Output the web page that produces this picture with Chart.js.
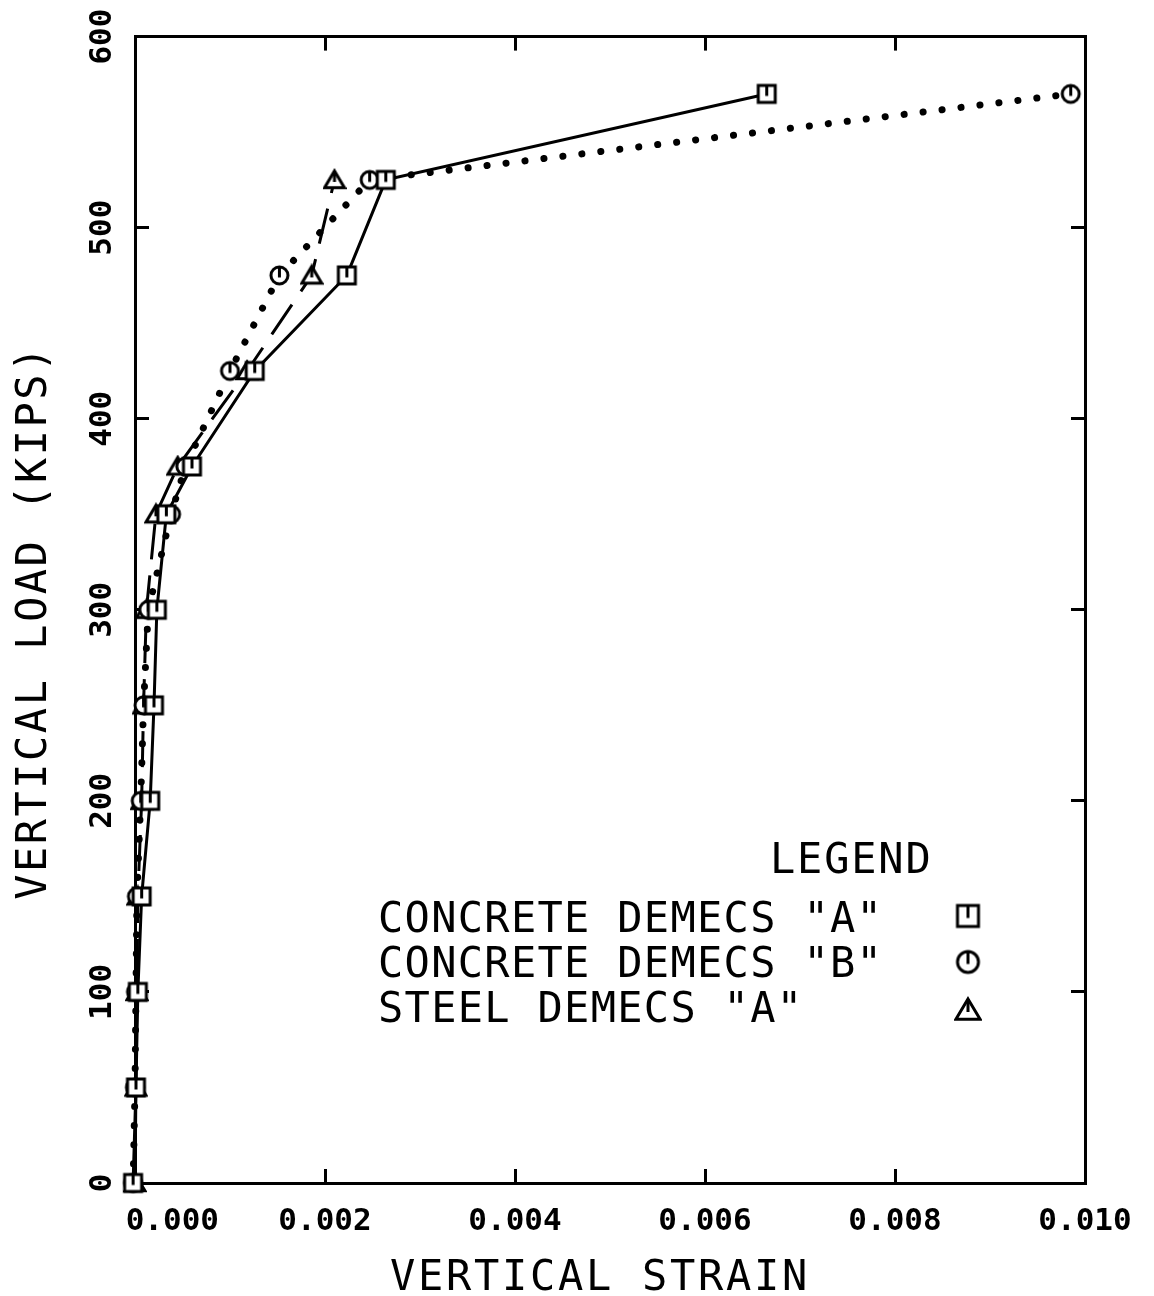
<!DOCTYPE html>
<html>
<head>
<meta charset="utf-8">
<script src="https://cdn.jsdelivr.net/npm/chart.js@4.4.0/dist/chart.umd.min.js"></script>
<style>
  html, body { margin: 0; padding: 0; background: #fff; }
  #wrap { width: 1154px; height: 1296px; }
</style>
</head>
<body>
<div id="wrap"><canvas id="strainChart"></canvas></div>
<script>
// load steps (kips)
const loads = [0, 50, 100, 150, 200, 250, 300, 350, 375, 425, 475, 525, 570];
const loadsSteel = [0, 50, 100, 150, 200, 250, 300, 350, 375, 425, 475, 525];

// vertical strain readings
const strainConcreteA = [-0.00002, 0.00001, 0.00003, 0.00007, 0.00016, 0.00020, 0.00023, 0.00033, 0.00060, 0.00126, 0.00223, 0.00264, 0.00665];
const strainConcreteB = [-0.00002, 0.00000, 0.00001, 0.00002, 0.00006, 0.00009, 0.00014, 0.00038, 0.00053, 0.00100, 0.00152, 0.00247, 0.00985];
const strainSteelA = [0.00000, 0.00001, 0.00002, 0.00003, 0.00007, 0.00009, 0.00012, 0.00022, 0.00045, 0.00118, 0.00186, 0.00210];

const xTickValues = [0, 0.002, 0.004, 0.006, 0.008, 0.010];
const yTickValues = [0, 100, 200, 300, 400, 500, 600];

const seriesNames = ['CONCRETE DEMECS "A"', 'CONCRETE DEMECS "B"', 'STEEL DEMECS "A"'];

const FONT = '"DejaVu Sans Mono", "Liberation Mono", monospace';
Chart.defaults.font.family = FONT;
Chart.defaults.color = '#000';

// plotter style markers with the little centre stroke
function makeIcon(kind, size) {
    const c = document.createElement('canvas');
    c.width = size + 6;
    c.height = size + 6;
    const g = c.getContext('2d');
    const m = c.width / 2;
    const h = size / 2;
    g.lineWidth = 3;
    g.strokeStyle = '#000';
    g.fillStyle = '#fff';
    g.beginPath();
    if (kind === 'square') {
        g.rect(m - h, m - h, size, size);
    } else if (kind === 'circle') {
        g.arc(m, m, h, 0, Math.PI * 2);
    } else {
        g.moveTo(m, m - h);
        g.lineTo(m + h * 1.1, m + h * 0.85);
        g.lineTo(m - h * 1.1, m + h * 0.85);
        g.closePath();
    }
    g.fill();
    g.stroke();
    g.beginPath();
    g.moveTo(m, m - h);
    g.lineTo(m, m + 2);
    g.stroke();
    return c;
}

const icons = [makeIcon('square', 17), makeIcon('circle', 17), makeIcon('triangle', 18)];
const legendIcons = [makeIcon('square', 21), makeIcon('circle', 21), makeIcon('triangle', 22)];

const toPoints = (xs, ys) => ys.map((y, i) => ({ x: xs[i], y: y }));

const setTicks = (values) => (scale) => {
    scale.ticks = values.map(v => ({ value: v }));
};

const plotterText = {
    id: 'plotterText',
    afterDraw(chart) {
        const ctx = chart.ctx;
        ctx.save();
        ctx.fillStyle = '#000';
        ctx.textBaseline = 'alphabetic';

        // axis titles
        ctx.font = '42px ' + FONT;
        ctx.letterSpacing = '2.7px';
        ctx.textAlign = 'center';
        ctx.fillText('VERTICAL STRAIN', 600, 1290);

        ctx.save();
        ctx.translate(46, 622);
        ctx.rotate(-Math.PI / 2);
        ctx.letterSpacing = '2.5px';
        ctx.fillText('VERTICAL LOAD (KIPS)', 0, 0);
        ctx.restore();

        // legend
        ctx.textAlign = 'left';
        ctx.letterSpacing = '1.8px';
        ctx.fillText('LEGEND', 770, 873);
        ctx.letterSpacing = '1.3px';
        const baselines = [932, 977, 1022];
        const iconY = [916, 962, 1010];
        seriesNames.forEach((name, i) => {
            ctx.fillText(name, 378, baselines[i]);
            const ic = legendIcons[i];
            ctx.drawImage(ic, 968 - ic.width / 2, iconY[i] - ic.height / 2);
        });
        ctx.restore();
    }
};

const innerGrid = {
    display: true,
    drawOnChartArea: false,
    drawTicks: true,
    tickLength: -14,
    color: '#000',
    lineWidth: 3
};
const frame = { display: true, color: '#000', width: 3 };

const ctxStrain = document.getElementById('strainChart').getContext('2d');

const strainChart = new Chart(ctxStrain, {
    type: 'scatter',
    data: {
        datasets: [{
            label: seriesNames[0],
            data: toPoints(strainConcreteA, loads),
            showLine: true,
            borderColor: '#000',
            borderWidth: 3,
            pointStyle: icons[0],
            pointRadius: 10,
            clip: false
        }, {
            label: seriesNames[1],
            data: toPoints(strainConcreteB, loads),
            showLine: true,
            borderColor: '#000',
            borderWidth: 7,
            borderDash: [0.1, 19],
            borderCapStyle: 'round',
            pointStyle: icons[1],
            pointRadius: 10,
            clip: false
        }, {
            label: seriesNames[2],
            data: toPoints(strainSteelA, loadsSteel),
            showLine: true,
            borderColor: '#000',
            borderWidth: 3,
            borderDash: [36, 16],
            pointStyle: icons[2],
            pointRadius: 10,
            clip: false
        }]
    },
    options: {
        responsive: true,
        maintainAspectRatio: false,
        animation: false,
        layout: {
            padding: { top: 31, right: 69, left: 0, bottom: 0 }
        },
        plugins: {
            legend: { display: false },
            tooltip: { enabled: false }
        },
        scales: {
            x: {
                type: 'linear',
                position: 'bottom',
                min: 0,
                max: 0.010,
                afterBuildTicks: setTicks(xTickValues),
                afterFit: (s) => {
                    s.height = 113;
                    s.paddingLeft = 0;
                    s.paddingRight = 0;
                },
                grid: innerGrid,
                border: frame,
                ticks: {
                    maxRotation: 0,
                    padding: 34,
                    font: { size: 31, weight: 'bold' },
                    callback: (v) => v === 0 ? '    0.000' : v.toFixed(3)
                }
            },
            x2: {
                type: 'linear',
                position: 'top',
                min: 0,
                max: 0.010,
                afterBuildTicks: setTicks(xTickValues),
                afterFit: (s) => {
                    s.height = 0;
                    s.paddingLeft = 0;
                    s.paddingRight = 0;
                },
                grid: innerGrid,
                border: frame,
                ticks: { display: false }
            },
            y: {
                type: 'linear',
                position: 'left',
                min: 0,
                max: 600,
                afterBuildTicks: setTicks(yTickValues),
                afterFit: (s) => { s.width = 135; },
                grid: innerGrid,
                border: frame,
                ticks: {
                    minRotation: 90,
                    maxRotation: 90,
                    crossAlign: 'center',
                    padding: 18,
                    font: { size: 31, weight: 'bold' },
                    callback: (v) => String(v)
                }
            },
            y2: {
                type: 'linear',
                position: 'right',
                min: 0,
                max: 600,
                afterBuildTicks: setTicks(yTickValues),
                afterFit: (s) => { s.width = 0; },
                grid: innerGrid,
                border: frame,
                ticks: { display: false }
            }
        }
    },
    plugins: [plotterText]
});
</script>
</body>
</html>
